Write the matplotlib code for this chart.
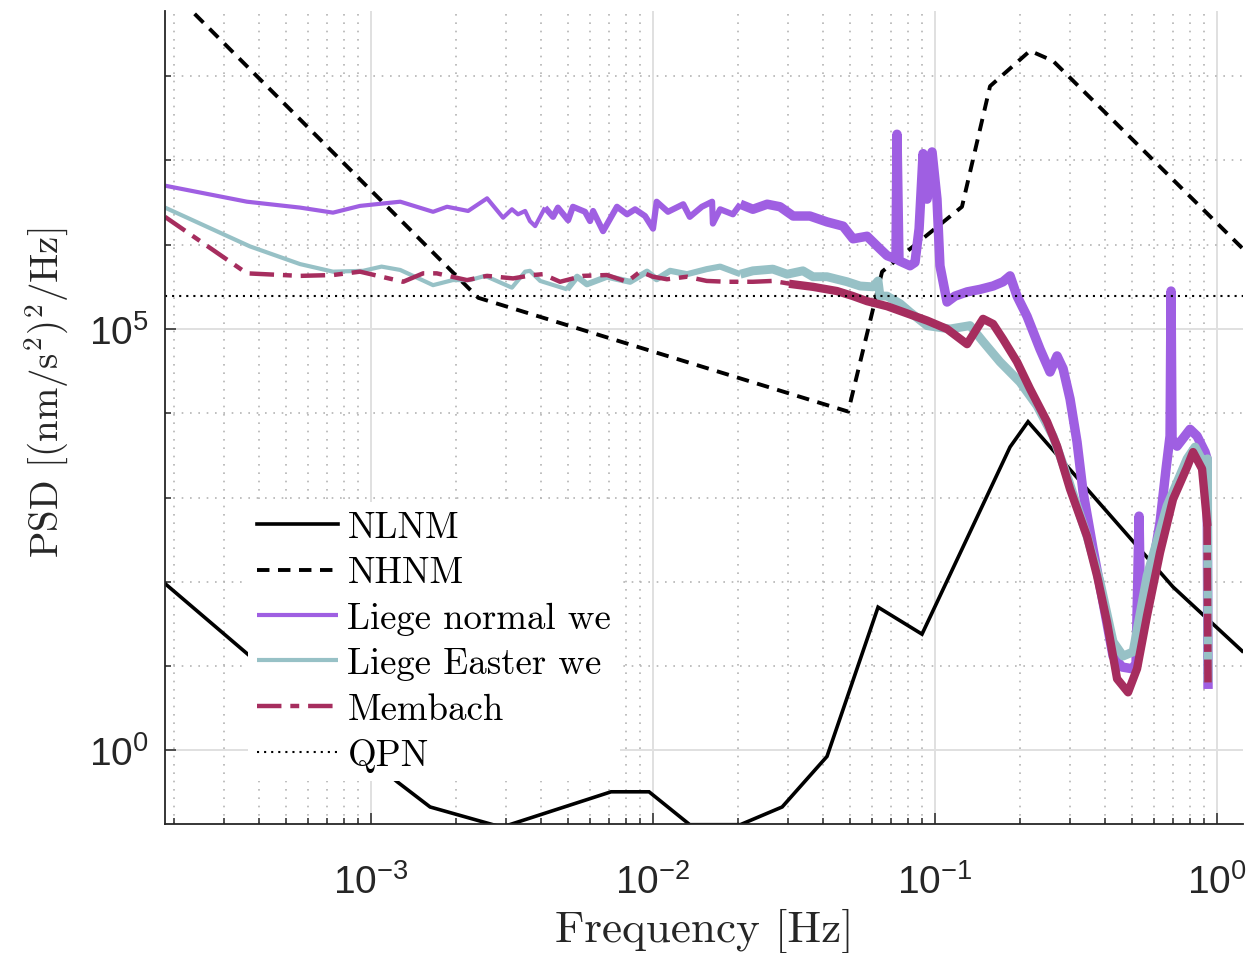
import numpy as np
import matplotlib.pyplot as plt
from matplotlib.ticker import FixedLocator, LogLocator, NullFormatter

# FREQUENCIES [Hz] AND LEVELS [dB rel. 1 (nm/s^2)^2/Hz]
NLNM_F = [1.86e-4, 1.237e-3, 1.62e-3, 2.91e-3, 7.10e-3, 9.68e-3, 1.35e-2, 2.04e-2,
          2.87e-2, 4.14e-2, 6.28e-2, 8.99e-2, 0.1845, 0.2137, 0.698, 1.227]
NLNM_DB = [19.8, -3.7, -6.7, -9.1, -4.9, -4.9, -8.8, -8.8,
           -6.7, -0.7, 17.0, 13.8, 36.0, 39.0, 19.4, 11.8]

NHNM_F = [1.86e-4, 2.40e-3, 4.92e-2, 6.49e-2, 0.1246, 0.1567, 0.2172, 0.2620, 1.236]
NHNM_DB = [90.9, 53.7, 40.2, 56.8, 64.5, 78.8, 83.0, 81.8, 59.5]

QPN_DB = 53.9

LIEGE_NORMAL_F = [1.86e-4, 3.63e-4, 5.60e-4, 7.33e-4, 9.14e-4, 1.27e-3, 1.66e-3, 1.86e-3,
                  2.21e-3, 2.58e-3, 2.94e-3, 3.16e-3, 3.32e-3, 3.52e-3, 3.66e-3, 3.82e-3,
                  4.14e-3, 4.42e-3, 4.60e-3, 5.00e-3, 5.20e-3, 5.74e-3, 5.98e-3, 6.13e-3,
                  6.65e-3, 7.45e-3, 8.09e-3, 8.64e-3, 9.37e-3, 1.00e-2, 1.03e-2, 1.13e-2,
                  1.28e-2, 1.35e-2, 1.49e-2, 1.62e-2, 1.63e-2, 1.73e-2, 1.92e-2, 2.04e-2,
                  2.26e-2, 2.54e-2, 2.82e-2, 3.14e-2, 3.60e-2, 4.14e-2, 4.72e-2, 5.12e-2,
                  5.74e-2, 6.38e-2, 6.76e-2, 7.27e-2, 7.33e-2, 7.45e-2, 8.15e-2, 8.49e-2,
                  8.78e-2, 9.07e-2, 9.37e-2, 9.76e-2, 0.1016, 0.1041, 0.1103, 0.1177,
                  0.1299, 0.1444, 0.1606, 0.1742, 0.1845, 0.1953, 0.2120, 0.2357,
                  0.2557, 0.2708, 0.2844, 0.3011, 0.3188, 0.3348, 0.3634, 0.3942,
                  0.4279, 0.4605, 0.4996, 0.5161, 0.5290, 0.5377, 0.5788, 0.6280,
                  0.6593, 0.6813, 0.6869, 0.6925, 0.7214, 0.8022, 0.8494, 0.9067,
                  0.9216, 0.929]
LIEGE_NORMAL_DB = [67.0, 65.1, 64.4, 63.8, 64.6, 65.1, 63.9, 64.5,
                   64.0, 65.5, 63.2, 64.2, 63.6, 64.0, 62.8, 62.2,
                   64.4, 63.3, 64.4, 62.9, 64.5, 63.9, 62.8, 64.0,
                   61.6, 64.5, 63.6, 64.2, 63.4, 61.9, 65.1, 63.9,
                   64.8, 63.3, 64.5, 65.1, 62.5, 64.2, 63.6, 64.8,
                   64.2, 64.8, 64.5, 63.4, 63.4, 62.7, 62.2, 60.7,
                   61.0, 59.5, 58.7, 58.3, 73.1, 58.1, 57.5, 57.9,
                   61.9, 70.8, 65.4, 71.0, 65.4, 57.5, 53.2, 53.9,
                   54.4, 54.7, 55.1, 55.6, 56.3, 53.9, 51.5, 47.6,
                   44.9, 46.8, 45.3, 41.7, 36.6, 30.7, 23.9, 17.6,
                   11.2, 9.9, 9.7, 10.3, 27.8, 13.2, 20.0, 27.1,
                   33.4, 37.3, 54.5, 37.0, 36.1, 38.1, 37.3, 35.4,
                   34.6, 7.3]

LIEGE_EASTER_F = [1.86e-4, 3.72e-4, 5.60e-4, 7.33e-4, 9.37e-4, 1.09e-3, 1.27e-3, 1.66e-3,
                  1.95e-3, 2.24e-3, 2.54e-3, 3.16e-3, 3.52e-3, 3.66e-3, 3.98e-3, 4.96e-3,
                  5.38e-3, 5.83e-3, 6.87e-3, 8.29e-3, 9.52e-3, 1.03e-2, 1.15e-2, 1.32e-2,
                  1.55e-2, 1.73e-2, 2.04e-2, 2.26e-2, 2.66e-2, 2.99e-2, 3.40e-2, 3.69e-2,
                  4.14e-2, 4.88e-2, 5.42e-2, 6.03e-2, 6.28e-2, 6.38e-2, 6.76e-2, 7.52e-2,
                  8.15e-2, 9.37e-2, 0.1130, 0.1331, 0.1480, 0.1700, 0.2001, 0.2300,
                  0.2620, 0.2938, 0.3459, 0.3847, 0.4279, 0.4642, 0.5037, 0.5647,
                  0.6647, 0.7828, 0.8356, 0.8920, 0.925, 0.929]
LIEGE_EASTER_DB = [64.4, 59.8, 57.7, 56.8, 56.9, 57.4, 57.0, 55.2,
                   55.8, 55.8, 56.3, 54.9, 56.8, 56.9, 55.7, 54.7,
                   56.2, 55.3, 56.2, 55.6, 56.8, 55.9, 56.9, 56.5,
                   57.1, 57.4, 56.5, 56.9, 57.1, 56.5, 56.9, 56.2,
                   56.2, 55.6, 55.1, 55.0, 55.7, 53.9, 53.9, 53.0,
                   52.0, 50.4, 50.0, 50.4, 48.5, 46.1, 43.7, 40.9,
                   37.3, 32.6, 25.4, 20.0, 12.9, 11.2, 11.7, 20.7,
                   29.0, 34.6, 36.0, 34.2, 34.6, 8.1]

MEMBACH_F = [1.86e-4, 3.63e-4, 5.60e-4, 7.33e-4, 9.14e-4, 1.30e-3, 1.53e-3, 1.71e-3,
             2.19e-3, 2.58e-3, 3.19e-3, 3.75e-3, 4.07e-3, 4.68e-3, 5.65e-3, 6.87e-3,
             8.09e-3, 9.00e-3, 1.00e-2, 1.12e-2, 1.32e-2, 1.55e-2, 1.83e-2, 2.26e-2,
             2.66e-2, 3.14e-2, 3.69e-2, 4.49e-2, 5.12e-2, 5.74e-2, 6.76e-2, 9.37e-2,
             0.1103, 0.1299, 0.1480, 0.1606, 0.1742, 0.1953, 0.2172, 0.2496,
             0.2708, 0.3011, 0.3459, 0.3755, 0.4073, 0.4421, 0.4836, 0.5204,
             0.5647, 0.6280, 0.6982, 0.7828, 0.8222, 0.8848, 0.9216, 0.929]
MEMBACH_DB = [63.3, 56.6, 56.3, 56.4, 56.8, 55.6, 56.6, 56.6,
              55.8, 56.3, 56.0, 56.4, 56.5, 55.6, 56.3, 56.4,
              55.6, 56.8, 56.2, 55.9, 56.2, 55.7, 55.6, 55.6,
              55.7, 55.3, 55.0, 54.5, 53.9, 53.3, 52.7, 51.0,
              50.0, 48.2, 51.2, 50.6, 48.8, 46.1, 42.9, 39.0,
              36.1, 31.0, 25.4, 20.7, 15.2, 8.5, 6.9, 9.7,
              16.0, 23.5, 29.8, 33.6, 35.4, 33.4, 27.1, 7.3]

LABELS = ["NLNM", "NHNM", "Liege normal we", "Liege Easter we", "Membach", "QPN"]

# COLOURS
C_NORMAL = "#9F5FE2"
C_EASTER = "#97C1C6"
C_MEMBACH = "#A62D5E"
AX_GREY = "#262626"
CM_FONT = "cmr10"


def db2psd(db):
    return 10 ** (np.asarray(db, dtype=float) / 10)


def pieces(f, p, edges):
    # cut a series at given frequencies, neighbouring pieces share one point
    f = np.asarray(f)
    p = np.asarray(p)
    idx = [0] + [int(np.searchsorted(f, e)) for e in edges] + [len(f) - 1]
    return [(f[a:b + 1], p[a:b + 1]) for a, b in zip(idx[:-1], idx[1:])]


plt.rcParams['font.family'] = 'Liberation Sans'
plt.rcParams['axes.unicode_minus'] = False

fig = plt.figure(figsize=(12.6, 9.54), dpi=100)
ax = fig.add_axes([165 / 1260, 1 - 825 / 954, (1243 - 165) / 1260, (825 - 12) / 954])
ax.set_xscale('log')
ax.set_yscale('log')

# NOISE MODELS
h_nlnm, = ax.plot(NLNM_F, db2psd(NLNM_DB), color='black', lw=2.6, solid_joinstyle='miter')
h_nhnm, = ax.plot(NHNM_F, db2psd(NHNM_DB), color='black', lw=2.8, dashes=(3.2, 2.2))

# MEASURED SPECTRA (the noisy high-frequency part looks thicker)
handles = []
for f, db, col, widths in [(LIEGE_NORMAL_F, LIEGE_NORMAL_DB, C_NORMAL, [3.0, 4.4, 6.8]),
                           (LIEGE_EASTER_F, LIEGE_EASTER_DB, C_EASTER, [3.0, 4.4, 6.4])]:
    for k, (ff, pp) in enumerate(pieces(f, db2psd(db), [4.0e-3, 2.0e-2])):
        ln, = ax.plot(ff, pp, color=col, lw=widths[k], solid_capstyle='butt')
        if k == 0:
            handles.append(ln)

mb_styles = [dict(lw=3.2, dashes=(5.5, 2.0, 2, 2.0)),
             dict(lw=6.0, ls='-'),
             dict(lw=5.5, dashes=(3, 1.0, 1, 1.0))]
for k, (ff, pp) in enumerate(pieces(MEMBACH_F, db2psd(MEMBACH_DB), [3.0e-2, 0.92])):
    ln, = ax.plot(ff, pp, color=C_MEMBACH, **mb_styles[k])
    if k == 0:
        handles.append(ln)

h_qpn = ax.axhline(db2psd(QPN_DB), color='black', lw=1.5, dashes=(1, 2.4))

# AXES
ax.set_xlim(1.86e-4, 1.236)
ax.set_ylim(10 ** -0.872, 10 ** 8.772)

ax.xaxis.set_major_locator(LogLocator(base=10, numticks=20))
ax.xaxis.set_minor_locator(LogLocator(base=10, subs=np.arange(2, 10), numticks=20))
ax.xaxis.set_minor_formatter(NullFormatter())
ax.yaxis.set_major_locator(FixedLocator([1e0, 1e5]))
ax.yaxis.set_minor_locator(FixedLocator([1e1, 1e2, 1e3, 1e4, 1e6, 1e7, 1e8]))
ax.yaxis.set_minor_formatter(NullFormatter())

ax.grid(True, which='major', color='#e0e0e0', lw=1.4, ls='-')
ax.grid(True, which='minor', color='#b4b4b4', lw=1.2, ls=(0, (1, 4)))
ax.set_axisbelow(True)

for side in ['top', 'right']:
    ax.spines[side].set_visible(False)
for side in ['left', 'bottom']:
    ax.spines[side].set_color(AX_GREY)
    ax.spines[side].set_linewidth(1.3)

ax.tick_params(which='both', direction='in', color=AX_GREY, width=1.1,
               labelcolor=AX_GREY, labelsize=28)
ax.tick_params(which='major', length=8)
ax.tick_params(which='minor', length=4)
ax.tick_params(axis='x', which='major', pad=28)
ax.tick_params(axis='y', which='major', pad=12)

ax.set_xlabel('Frequency [Hz]', fontfamily=CM_FONT, fontsize=32.5, color=AX_GREY)
ax.set_ylabel(r'PSD $[(\mathrm{nm/s^2})^2/\mathrm{Hz}]$', fontfamily=CM_FONT,
              math_fontfamily='cm', fontsize=28, color=AX_GREY)
ax.xaxis.set_label_coords(0.5, -0.103)
ax.yaxis.set_label_coords(-0.088, 0.531)

# LEGEND (white box, no border)
leg = ax.legend([h_nlnm, h_nhnm] + handles + [h_qpn], LABELS,
                loc='lower left', bbox_to_anchor=(0.077, 0.053), borderaxespad=0,
                frameon=True, facecolor='white', edgecolor='none', framealpha=1,
                fancybox=False, prop={'family': CM_FONT, 'size': 26.5},
                handlelength=2.2, handletextpad=0.25, labelspacing=0.33, borderpad=0.25)

fig.savefig('out.png', dpi=100)
